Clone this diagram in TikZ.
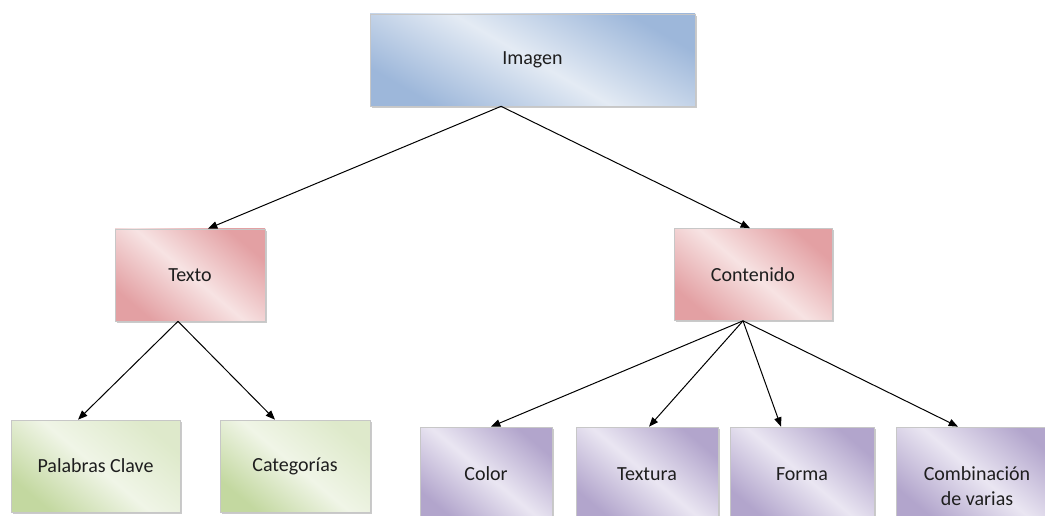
\documentclass[tikz,border=0pt]{standalone}
\usepackage{fontspec}
\setmainfont{Carlito}
\usetikzlibrary{arrows.meta,shadows}

\definecolor{blueD}{HTML}{9DB7DA}
\definecolor{blueL}{HTML}{E4EBF4}
\definecolor{redD}{HTML}{E3A0A3}
\definecolor{redL}{HTML}{F7E3E3}
\definecolor{greenD}{HTML}{C3D8A0}
\definecolor{greenL}{HTML}{F0F5E7}
\definecolor{purpleD}{HTML}{B2A5CC}
\definecolor{purpleL}{HTML}{EAE6F2}
\definecolor{ink}{HTML}{1E1E1E}

\begin{document}
\begin{tikzpicture}[x=0.75pt,y=-0.75pt,
  base/.style={rectangle, inner sep=0pt, minimum height=69pt,
    font=\fontsize{15}{18.75}\selectfont, text=ink,
    draw=black!22, line width=0.5pt,
    drop shadow={shadow xshift=1.2pt, shadow yshift=-1.2pt, opacity=0.35, fill=black!60}},
  bluebox/.style={base, left color=blueD, right color=blueD, middle color=blueL, shading angle=-30},
  redbox/.style={base, left color=redD, right color=redD, middle color=redL, shading angle=-40},
  greenbox/.style={base, left color=greenL!60!greenD, right color=greenD, middle color=greenL, shading angle=-40},
  purplebox/.style={base, minimum height=70.5pt, left color=purpleD, right color=purpleD, middle color=purpleL, shading angle=-40},
  label text/.style={font=\fontsize{15}{18.75}\selectfont, text=ink, align=center, inner sep=0pt},
  arr/.style={-{Triangle[length=7pt,width=5.5pt]}, line width=0.75pt, black}]

\useasboundingbox (0,0) rectangle (1045,516);

% top level
\node[bluebox, minimum width=243.75pt] (imagen) at (532.5,60) {Imagen};

% second level
\node[redbox, minimum width=112.5pt] (texto) at (190,275) {Texto};
\node[redbox, minimum width=118.5pt] (contenido) at (753,274.5) {Contenido};

% leaves
\node[greenbox, minimum width=126.75pt] (palabras) at (95.5,466) {Palabras Clave};
\node[greenbox, minimum width=112.5pt] (categorias) at (295,466) {Categorías};
\node[purplebox, minimum width=99pt] (color) at (486,474) {Color};
\node[purplebox, minimum width=106.5pt] (textura) at (647,474) {Textura};
\node[purplebox, minimum width=108pt] (forma) at (802,474) {Forma};
\node[purplebox, minimum width=121.5pt] (comb) at (977,474) {};
\node[label text] (combtext) at ([yshift=-9.4pt]comb.center) {Combinación\\de varias};

% connectors
\draw[arr] ([xshift=-23.6pt]imagen.south) -- ([xshift=13.5pt]texto.north);
\draw[arr] ([xshift=-23.6pt]imagen.south) -- ([xshift=-2.25pt]contenido.north);
\draw[arr] ([xshift=-9pt]texto.south) -- ([xshift=-13.1pt]palabras.north);
\draw[arr] ([xshift=-9pt]texto.south) -- ([xshift=-15pt]categorias.north);
\draw[arr] ([xshift=-7.5pt]contenido.south) -- ([xshift=3.75pt]color.north);
\draw[arr] ([xshift=-7.5pt]contenido.south) -- ([xshift=1.5pt]textura.north);
\draw[arr] ([xshift=-7.5pt]contenido.south) -- ([xshift=-15.75pt]forma.north);
\draw[arr] ([xshift=-7.5pt]contenido.south) -- ([xshift=-14.25pt]comb.north);
\end{tikzpicture}
\end{document}
